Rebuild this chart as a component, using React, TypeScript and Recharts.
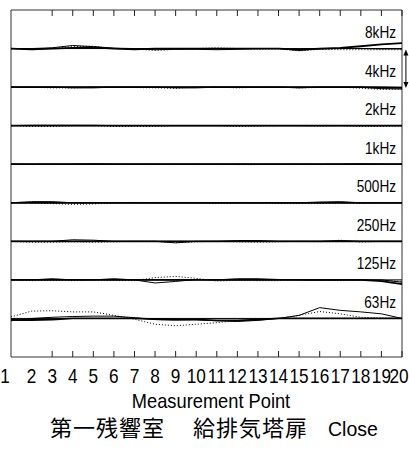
import { LineChart, Line, XAxis, YAxis, ReferenceLine, ReferenceArea } from "recharts";

// measurement points along the x axis
const pointLabels = ["1", "2", "3", "4", "5", "6", "7", "8", "9", "10", "11", "12", "13", "14", "15", "16", "17", "18", "19", "20"];
const innerTicks = [2, 3, 4, 5, 6, 7, 8, 9, 10, 11, 12, 13, 14, 15, 16, 17, 18, 19];

// octave bands, top to bottom
const bandLabels = ["8kHz", "4kHz", "2kHz", "1kHz", "500Hz", "250Hz", "125Hz", "63Hz"];
const bandOffsets = [80, 70, 60, 50, 40, 30, 20, 10];

// deviation (dB) from each band's reference level
const solid8k = [0, -0.2, 0, 0.2, 0.3, 0, -0.2, 0, 0, 0, 0, 0, 0, 0, -0.3, 0, 0.2, 0.6, 1.1, 1.4];
const thin8k = [0, 0, 0.2, 0.8, 0.5, 0.1, 0, -0.3, -0.2, -0.2, -0.3, -0.2, 0, 0, -0.5, -0.1, 0, 0, -0.1, -0.1];
const dot8k = [0, -0.3, 0, 0.5, 0.6, 0, -0.1, -0.5, -0.2, 0, 0.2, 0, -0.2, -0.1, -0.6, -0.2, -0.3, -0.3, -0.3, -0.3];

const solid4k = [0, 0, 0, 0, 0, 0, 0, 0, 0, 0, 0, 0, 0, 0, 0, 0, 0, 0, -0.1, -0.2];
const thin4k = [0, 0, 0, -0.2, -0.2, 0, 0, 0, -0.2, -0.2, 0, 0, 0, 0, -0.2, 0, 0, 0, -0.4, -0.5];
const dot4k = [0, 0, -0.2, -0.2, 0, 0, -0.1, -0.2, -0.3, 0, 0, -0.2, 0, 0, -0.2, -0.1, 0, -0.3, -0.6, -0.5];

const solid2k = [0, 0, 0, 0, 0, 0, 0, 0, 0, 0, 0, 0, 0, 0, 0, 0, 0, 0, 0, 0];
const thin2k = [0, 0.1, 0.1, 0.1, 0.1, 0, 0, 0, 0, 0, 0, 0, 0, 0, 0, 0, 0, 0, 0, 0];
const dot2k = [0, -0.2, -0.2, 0, 0, -0.2, -0.2, -0.2, 0, 0, 0, -0.2, -0.1, 0, 0, -0.1, 0, -0.2, -0.2, 0];

const solid1k = [0, 0, 0, 0, 0, 0, 0, 0, 0, 0, 0, 0, 0, 0, 0, 0, 0, 0, 0, 0];
const thin1k = [0, 0, 0, 0, 0.1, 0, 0, 0, 0, 0, 0, 0, 0, 0, 0, 0, 0, 0.1, 0, 0];
const dot1k = [0, -0.1, 0, 0, 0, 0, 0, 0, 0, 0, 0, -0.1, -0.1, 0, 0, -0.1, 0, 0, 0, 0];

const solid500 = [0, 0, 0, 0, 0, 0, 0, 0, 0, 0, 0, 0, 0, 0, 0, 0, 0, 0, 0, 0];
const thin500 = [0, 0.3, 0.3, 0, 0, 0, 0, 0, 0, 0, 0, 0, 0, 0, 0, 0.2, 0.3, 0, 0, 0];
const dot500 = [0, 0, -0.2, -0.4, -0.3, 0, 0, 0, 0, 0, -0.2, -0.1, 0, -0.2, -0.2, -0.2, 0, -0.2, 0, 0];

const solid250 = [0, 0, 0, 0, 0, 0, 0, 0, 0, 0, 0, 0, 0, 0, 0, 0, 0, 0, 0, 0];
const thin250 = [0, 0, 0, 0.4, 0.3, 0, 0, 0, -0.4, 0, 0, 0.2, 0.2, 0, 0, 0, 0.2, 0, 0, 0];
const dot250 = [0, -0.2, -0.2, -0.1, -0.2, -0.1, 0, 0, -0.3, -0.1, 0, -0.1, -0.2, -0.1, 0, -0.1, 0.3, -0.2, 0, 0];

const solid125 = [0, 0, 0, 0, 0, 0, 0, 0, 0, 0, 0, 0, 0, 0, 0, 0, 0, 0, -0.3, -1.1];
const thin125 = [0, 0, 0.3, 0, 0, 0.3, 0, -0.8, -0.4, 0.1, 0, 0.3, 0.3, 0.1, 0, -0.1, 0, 0, 0, -0.6];
const dot125 = [0, -0.2, -0.1, -0.2, 0, -0.1, -0.2, 0.6, 0.9, 0.4, -0.3, -0.1, -0.2, -0.2, 0, -0.1, -0.2, -0.1, -0.1, -0.4];

const solid63 = [-0.4, -0.4, -0.3, 0, 0, 0, 0, -0.2, -0.3, -0.3, -0.5, -0.5, -0.3, 0, 0, 0, 0, 0, 0, 0];
const thin63 = [-0.6, 0, 0.3, 0.5, 0.6, 0.6, 0.2, -0.3, -0.4, -0.3, -0.6, -0.8, -0.5, 0, 0.8, 2.8, 2.1, 1.7, 1.2, 0];
const dot63 = [0.4, 1.9, 2.0, 1.7, 1.7, 0.8, -0.2, -1.5, -1.9, -1.5, -1.1, -0.6, -0.3, 0, 0.8, 1.8, 1.2, 0.3, 0.1, 0];

const solids = [solid8k, solid4k, solid2k, solid1k, solid500, solid250, solid125, solid63];
const thins = [thin8k, thin4k, thin2k, thin1k, thin500, thin250, thin125, thin63];
const dots = [dot8k, dot4k, dot2k, dot1k, dot500, dot250, dot125, dot63];

const data = pointLabels.map((_, i) => {
  const row: Record<string, number> = { pt: i + 1 };
  bandOffsets.forEach((base, k) => {
    row[`s${k}`] = base + solids[k][i];
    row[`t${k}`] = base + thins[k][i];
    row[`d${k}`] = base + dots[k][i];
  });
  return row;
});

const sans = "'Liberation Sans', Arial, sans-serif";

// the original lettering is a condensed sans, so squeeze it horizontally
function PointTick(props: any) {
  const { x, y, payload } = props;
  const v = payload.value as number;
  const dx = v === 1 ? -6 : v === 20 ? -3 : 0;
  return (
    <text
      transform={`translate(${x + dx},${y + 26}) scale(0.82,1)`}
      textAnchor="middle"
      fontFamily={sans}
      fontSize={21}
      fill="#000"
    >
      {pointLabels[v - 1]}
    </text>
  );
}

function BandLabel(props: any) {
  const vb = props.viewBox ?? props;
  return (
    <text
      transform={`translate(${vb.x + vb.width - 6},${vb.y - 10.5}) scale(0.85,1)`}
      textAnchor="end"
      fontFamily={sans}
      fontSize={16}
      fill="#000"
    >
      {props.text}
    </text>
  );
}

function ScaleArrow(props: any) {
  const { x1, y1, y2 } = props;
  const top = Math.min(y1, y2) + 1;
  const bot = Math.max(y1, y2) + 1;
  return (
    <g>
      <line x1={x1} y1={top + 4} x2={x1} y2={bot - 4} stroke="#000" strokeWidth={1} />
      <polygon points={`${x1},${top} ${x1 - 2.5},${top + 6} ${x1 + 2.5},${top + 6}`} fill="#000" />
      <polygon points={`${x1},${bot} ${x1 - 2.5},${bot - 6} ${x1 + 2.5},${bot - 6}`} fill="#000" />
    </g>
  );
}

export default function App() {
  return (
    <div style={{ position: "absolute", left: 0, top: 0, width: 409, height: 450, background: "#fff" }}>
      <LineChart width={409} height={450} data={data} margin={{ top: 10, right: 7, left: 11, bottom: 63 }}>
        <XAxis
          dataKey="pt"
          type="number"
          domain={[1, 20]}
          ticks={[1, 2, 3, 4, 5, 6, 7, 8, 9, 10, 11, 12, 13, 14, 15, 16, 17, 18, 19, 20]}
          height={30}
          axisLine={false}
          tickLine={false}
          tickSize={0}
          tickMargin={0}
          tick={<PointTick />}
          interval={0}
        />
        <XAxis
          xAxisId="top"
          orientation="top"
          mirror
          type="number"
          domain={[1, 20]}
          ticks={innerTicks}
          tickSize={6}
          tickFormatter={() => ""}
          axisLine={false}
          tickLine={{ stroke: "#222" }}
          interval={0}
        />
        <XAxis
          xAxisId="bot"
          orientation="bottom"
          mirror
          type="number"
          domain={[1, 20]}
          ticks={innerTicks}
          tickSize={6}
          tickFormatter={() => ""}
          axisLine={false}
          tickLine={{ stroke: "#222" }}
          interval={0}
        />
        <YAxis hide type="number" domain={[0, 90]} />
        <ReferenceArea x1={1} x2={20} y1={0} y2={90} fill="none" stroke="#333" strokeWidth={1} />
        {bandOffsets.map((base, k) => (
          <ReferenceLine key={`ref${k}`} y={base} stroke="#000" strokeWidth={1} label={<BandLabel text={bandLabels[k]} />} />
        ))}
        {bandOffsets.map((_, k) => (
          <Line key={`d${k}`} dataKey={`d${k}`} stroke="#000" strokeWidth={1} strokeDasharray="1 2" dot={false} isAnimationActive={false} />
        ))}
        {bandOffsets.map((_, k) => (
          <Line key={`t${k}`} dataKey={`t${k}`} stroke="#000" strokeWidth={1} dot={false} isAnimationActive={false} />
        ))}
        {bandOffsets.map((_, k) => (
          <Line key={`s${k}`} dataKey={`s${k}`} stroke="#000" strokeWidth={1.8} dot={false} isAnimationActive={false} />
        ))}
        <ReferenceLine
          segment={[{ x: 20.19, y: 80 }, { x: 20.19, y: 70 }]}
          ifOverflow="visible"
          stroke="#000"
          shape={ScaleArrow}
        />
      </LineChart>
      <svg width={409} height={450} style={{ position: "absolute", left: 0, top: 0, pointerEvents: "none" }}>
        <text transform="translate(211,408) scale(0.87,1)" textAnchor="middle" fontFamily={sans} fontSize={21} fill="#000">
          Measurement Point
        </text>
        <text y={435.5} fontFamily="'Noto Sans CJK JP', sans-serif" fontSize={22} fill="#000">
          <tspan x={50} letterSpacing={1}>第一残響室</tspan>
          <tspan x={193} letterSpacing={1}>給排気塔扉</tspan>
        </text>
        <text transform="translate(328,436) scale(0.93,1)" fontFamily={sans} fontSize={21} fill="#000">
          Close
        </text>
      </svg>
    </div>
  );
}
